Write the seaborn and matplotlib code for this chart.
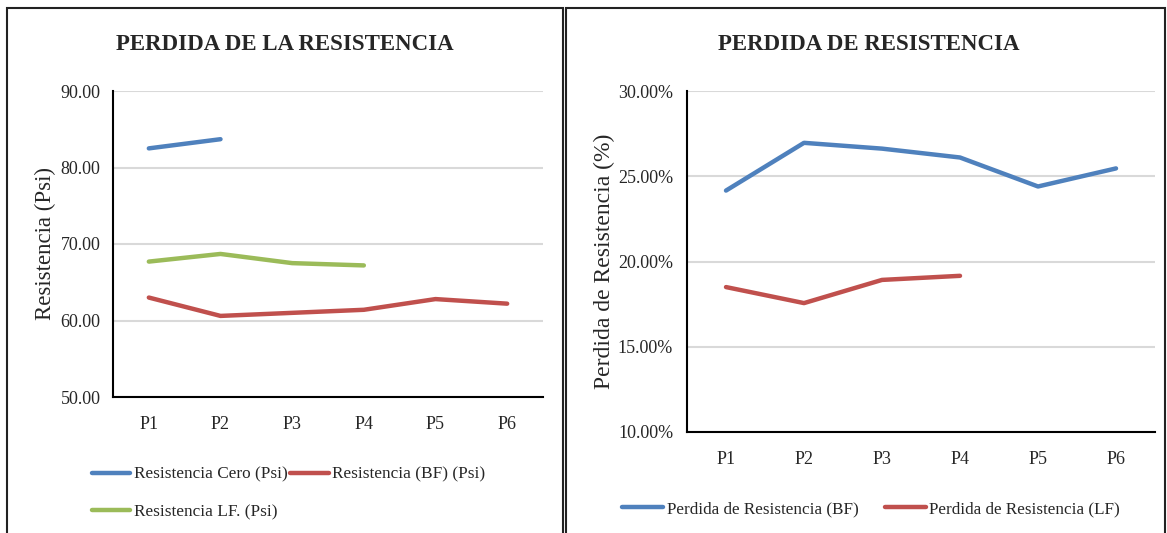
import pandas as pd
import matplotlib.pyplot as plt
import seaborn as sns
from matplotlib.patches import Rectangle
from matplotlib.ticker import PercentFormatter, FormatStrFormatter

puntos = ["P1", "P2", "P3", "P4", "P5", "P6"]

# left chart (Psi)
res_cero = [82.5, 83.7]
res_bf = [63.0, 60.6, 61.0, 61.4, 62.8, 62.2]
res_lf = [67.7, 68.7, 67.5, 67.2]

# right chart (fraction)
perd_bf = [0.2416, 0.2696, 0.2662, 0.2610, 0.2440, 0.2546]
perd_lf = [0.1850, 0.1756, 0.1892, 0.1916]

names_left = ["Resistencia Cero (Psi)", "Resistencia (BF) (Psi)", "Resistencia LF. (Psi)"]
names_right = ["Perdida de Resistencia (BF)", "Perdida de Resistencia (LF)"]

blue, red, green = "#4f81bd", "#c0504d", "#9bbb59"


def long_df(series, names):
    rows = []
    for vals, name in zip(series, names):
        for p, v in zip(puntos, vals):
            rows.append({"punto": p, "valor": v, "serie": name})
    return pd.DataFrame(rows)


df_left = long_df([res_cero, res_bf, res_lf], names_left)
df_right = long_df([perd_bf, perd_lf], names_right)

sns.set_style("white")
plt.rcParams["font.family"] = ["Liberation Serif", "DejaVu Serif"]

fig = plt.figure(figsize=(11.67, 5.33), dpi=100)
W, H = 1167, 533

def fx(x):
    return x / W

def fy(y):
    return 1 - y / H

ax1 = fig.add_axes([fx(113), fy(397), fx(543 - 113), (397 - 91) / H])
ax2 = fig.add_axes([fx(687), fy(432), fx(1155 - 687), (432 - 91) / H])

sns.lineplot(data=df_left, x="punto", y="valor", hue="serie", hue_order=names_left,
             palette=[blue, red, green], linewidth=3.2, ax=ax1, legend=True)
sns.lineplot(data=df_right, x="punto", y="valor", hue="serie", hue_order=names_right,
             palette=[blue, red], linewidth=3.2, ax=ax2, legend=True)

for ax in (ax1, ax2):
    ax.set_xlim(-0.5, 5.5)
    ax.set_xlabel("")
    ax.grid(axis="y", color="#d9d9d9", linewidth=1.5)
    ax.set_axisbelow(True)
    for s in ("top", "right"):
        ax.spines[s].set_visible(False)
    for s in ("left", "bottom"):
        ax.spines[s].set_color("black")
        ax.spines[s].set_linewidth(1.5)
    ax.tick_params(axis="both", length=0, labelsize=13)
    ax.tick_params(axis="x", pad=14)
    for ln in ax.get_lines():
        ln.set_solid_capstyle("round")

ax1.set_ylim(50, 90)
ax1.set_yticks([50, 60, 70, 80, 90])
ax1.yaxis.set_major_formatter(FormatStrFormatter("%.2f"))
ax1.tick_params(axis="y", pad=9)
ax1.set_ylabel("Resistencia (Psi)", fontsize=16.5)
ax1.yaxis.set_label_coords(-0.133, 0.5)

ax2.set_ylim(0.10, 0.30)
ax2.set_yticks([0.10, 0.15, 0.20, 0.25, 0.30])
ax2.yaxis.set_major_formatter(PercentFormatter(xmax=1, decimals=2))
ax2.tick_params(axis="y", pad=10)
ax2.set_ylabel("Perdida de Resistencia (%)", fontsize=17)
ax2.yaxis.set_label_coords(-0.154, 0.5)

# legend filled row by row: Cero, BF / LF
h, l = ax1.get_legend_handles_labels()
order = [0, 2, 1]
ax1.legend([h[i] for i in order], [l[i] for i in order],
           loc="upper left", bbox_to_anchor=(fx(76), fy(451)), bbox_transform=fig.transFigure,
           ncol=2, frameon=False, fontsize=12.4, handlelength=2.25, handletextpad=0.2,
           columnspacing=0.15, labelspacing=1.25)
ax2.legend(loc="upper left", bbox_to_anchor=(fx(607), fy(486)), bbox_transform=fig.transFigure,
           ncol=2, frameon=False, fontsize=12.3, handlelength=2.4, handletextpad=0.2,
           columnspacing=1.55)

fig.text(fx(285), fy(45), "PERDIDA DE LA RESISTENCIA", ha="center", va="center",
         fontsize=16.5, fontweight="bold")
fig.text(fx(869), fy(45), "PERDIDA DE RESISTENCIA", ha="center", va="center",
         fontsize=16.5, fontweight="bold")

# panel frames
fig.patches.append(Rectangle((fx(7), fy(540)), fx(563 - 7), (540 - 8) / H, transform=fig.transFigure,
                             fill=False, edgecolor="#222222", linewidth=1.5))
fig.patches.append(Rectangle((fx(566), fy(540)), fx(1165 - 566), (540 - 8) / H, transform=fig.transFigure,
                             fill=False, edgecolor="#222222", linewidth=1.5))

fig.savefig("out.png", dpi=100)
